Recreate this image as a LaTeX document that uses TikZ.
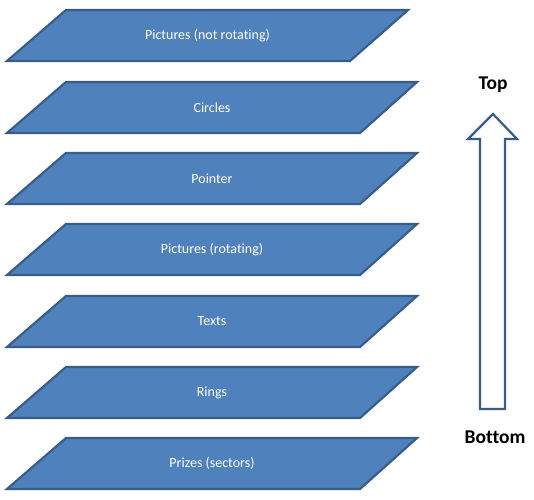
\documentclass[tikz,border=0pt]{standalone}
\usepackage{fontspec}
\setmainfont[Ligatures=NoCommon]{Carlito}
\definecolor{lfill}{HTML}{4F81BD}
\definecolor{lline}{HTML}{385D8A}
\begin{document}
\begin{tikzpicture}[x=1bp,y=-1bp,
  layer/.style={fill=lfill,draw=lline,line width=2.2bp,line join=miter},
  ltext/.style={text=white,font=\fontsize{14bp}{16bp}\selectfont,inner sep=0pt},
  side/.style={font=\bfseries\fontsize{19.5bp}{22bp}\selectfont,inner sep=0pt}]
\useasboundingbox (0,0) rectangle (534,500);
% layer 1 (narrower)
\draw[layer] (66,10) -- (408,10) -- (350,61) -- (7,61) -- cycle;
\node[ltext] (t1) at (207.5,36) {Pictures (not rotating)};
\foreach \y/\name/\txt in {82/t2/Circles,153/t3/Pointer,224/t4/Pictures (rotating),296/t5/Texts,367/t6/Rings,438/t7/Prizes (sectors)}{
  \draw[layer] (66,\y) -- (417,\y) -- (360,\y+51) -- (7,\y+51) -- cycle;
  \node[ltext] (\name) at (212,\y+25.5) {\txt};
}
% arrow
\draw[draw=lline,fill=white,line width=2.2bp,line join=miter]
  (493,114) -- (517,139) -- (505,139) -- (505,409) -- (480,409) -- (480,139) -- (468,139) -- cycle;
\node[side] (top) at (493,85) {Top};
\node[side] (bottom) at (495,437) {Bottom};
\end{tikzpicture}
\end{document}
